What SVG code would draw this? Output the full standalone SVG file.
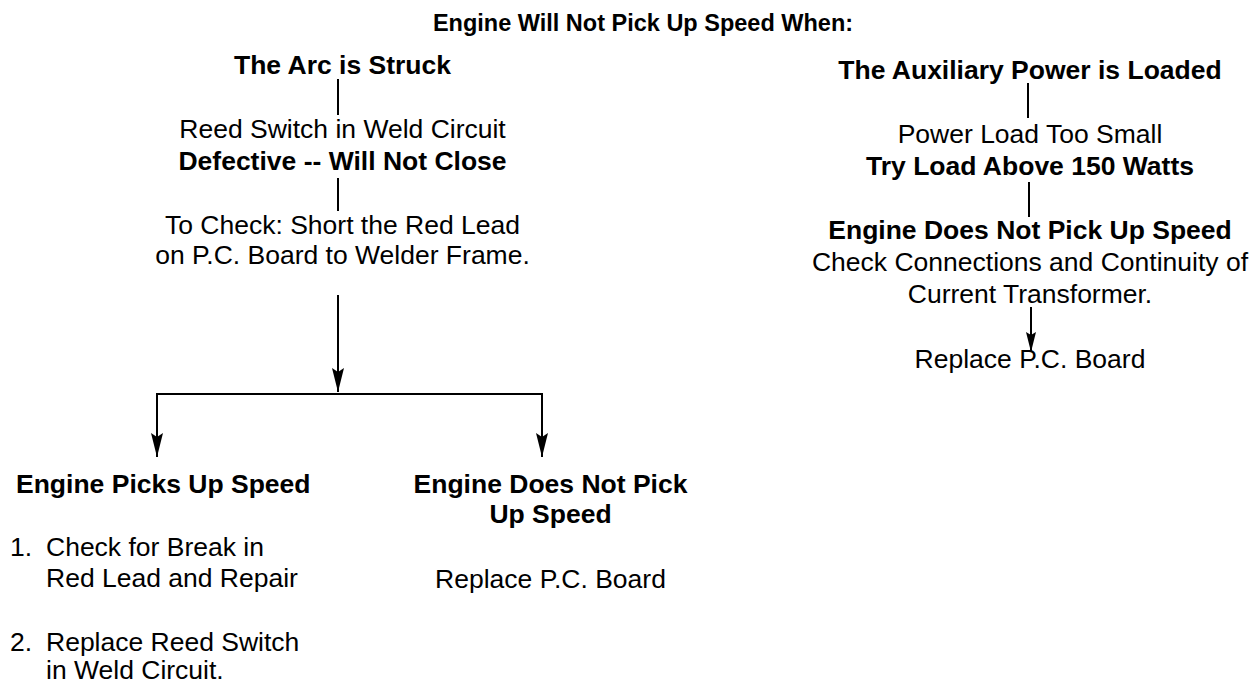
<svg xmlns="http://www.w3.org/2000/svg" width="1258" height="685" viewBox="0 0 1258 685">
<style>
text{font-family:"Liberation Sans",Arial,sans-serif;fill:#000;font-size:26.5px}
.b{font-weight:bold}
.c{text-anchor:middle}
.t{font-size:23.5px}
.ln{stroke:#000;stroke-width:2;fill:none}
</style>
<defs>
<marker id="ah" markerUnits="userSpaceOnUse" markerWidth="30" markerHeight="16" viewBox="-26 -8 28 16" refX="0" refY="0" orient="auto">
<path d="M0,0 L-24,-6 L-20,0 L-24,6 Z" fill="#000"/>
</marker>
<marker id="ahs" markerUnits="userSpaceOnUse" markerWidth="24" markerHeight="14" viewBox="-22 -7 24 14" refX="0" refY="0" orient="auto">
<path d="M0,0 L-20,-5 L-17,0 L-20,5 Z" fill="#000"/>
</marker>
</defs>
<g id="title"><text class="b c t" x="643" y="31">Engine Will Not Pick Up Speed When:</text></g>
<g id="arc"><text class="b c" x="342.5" y="74">The Arc is Struck</text></g>
<g id="reed"><text class="c" x="342.5" y="138">Reed Switch in Weld Circuit</text><text class="b c" x="342.5" y="170">Defective -- Will Not Close</text></g>
<g id="check"><text class="c" x="342.5" y="234">To Check: Short the Red Lead</text><text class="c" x="342.5" y="264">on P.C. Board to Welder Frame.</text></g>
<g id="picks"><text class="b" x="16" y="493">Engine Picks Up Speed</text>
<text x="10" y="556">1.</text><text x="46" y="556">Check for Break in</text><text x="46" y="587">Red Lead and Repair</text>
<text x="10" y="651">2.</text><text x="46" y="651">Replace Reed Switch</text><text x="46" y="679">in Weld Circuit.</text></g>
<g id="notpick"><text class="b c" x="550.5" y="493">Engine Does Not Pick</text><text class="b c" x="550.5" y="523">Up Speed</text><text class="c" x="550.5" y="588">Replace P.C. Board</text></g>
<g id="aux"><text class="b c" x="1030" y="79">The Auxiliary Power is Loaded</text></g>
<g id="load"><text class="c" x="1030" y="143">Power Load Too Small</text><text class="b c" x="1030" y="175">Try Load Above 150 Watts</text></g>
<g id="notpick2"><text class="b c" x="1030" y="239">Engine Does Not Pick Up Speed</text><text class="c" x="1030" y="271">Check Connections and Continuity of</text><text class="c" x="1030" y="303">Current Transformer.</text></g>
<g id="replace2"><text class="c" x="1030" y="368">Replace P.C. Board</text></g>
<g id="connectors" class="ln">
<line class="ln" x1="338" y1="79" x2="338" y2="115"/>
<line class="ln" x1="338" y1="178" x2="338" y2="211"/>
<line class="ln" x1="338" y1="295" x2="338" y2="392" marker-end="url(#ah)"/>
<polyline class="ln" points="157,457 157,394 542,394 542,457"/>
<line class="ln" x1="157" y1="440" x2="157" y2="457" marker-end="url(#ah)"/>
<line class="ln" x1="542" y1="440" x2="542" y2="457" marker-end="url(#ah)"/>
<line class="ln" x1="1028" y1="83" x2="1028" y2="118"/>
<line class="ln" x1="1029" y1="182" x2="1029" y2="217"/>
<line class="ln" x1="1031" y1="307" x2="1031" y2="352" marker-end="url(#ahs)"/>
</g>
</svg>
